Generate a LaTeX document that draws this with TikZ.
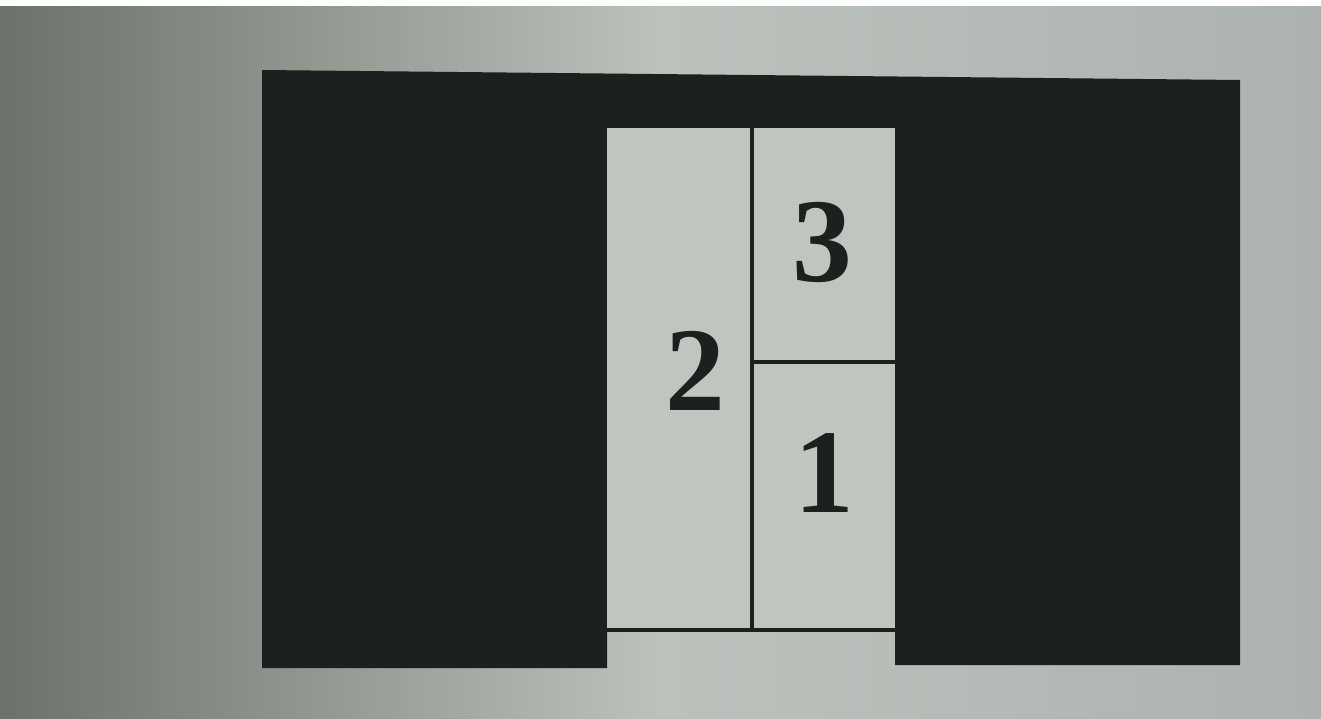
\documentclass[tikz,border=0pt]{standalone}
\usepackage{fontspec}
\setmainfont{Liberation Serif}
\begin{document}
\begin{tikzpicture}[x=0.01cm, y=-0.01cm]
  % Colors
  \definecolor{bgleft}{RGB}{108,113,108}
  \definecolor{bgmid}{RGB}{188,193,188}
  \definecolor{bgright}{RGB}{172,179,174}
  \definecolor{papercol}{RGB}{192,197,192}
  \definecolor{inkcol}{RGB}{28,32,30}
  %
  \def\lx{607}   % left edge of the cells
  \def\mx{752}   % middle divider
  \def\rx{895}   % right edge of the cells
  \def\ty{128}   % top of the cells
  \def\hy{362}   % divider between 3 and 1
  \def\by{630}   % bottom line
  %
  \tikzset{
    rule/.style={draw=inkcol, line width=0.9pt},
    numlabel/.style={inner sep=0pt, text=inkcol,
                     font=\fontsize{34}{34}\selectfont\bfseries},
  }
  %
  \useasboundingbox (0,0) rectangle (1321,718);
  %
  % Paper
  \shade[left color=bgleft, right color=bgright, middle color=bgmid] (0,0) rectangle (1321,718);
  \fill[white] (0,0) rectangle (1321,6);
  %
  % Dark surround
  \fill[inkcol] (262,70) -- (1240,80) -- (1240,665) -- (\rx,665) -- (\rx,\ty)
    -- (\lx,\ty) -- (\lx,668) -- (262,668) -- cycle;
  %
  % Cells
  \fill[papercol] (\lx,\ty) rectangle (\rx,\by);
  \draw[rule] (\mx,\ty) -- (\mx,\by);
  \draw[rule] (\mx,\hy) -- (\rx,\hy);
  \draw[rule] (\lx,\by) -- (\rx,\by);
  %
  % Labels
  \node[numlabel] (two) at (695,371) {2};
  \node[numlabel] (three) at (822,242) {3};
  \node[numlabel] (one) at (824,473) {1};
\end{tikzpicture}
\end{document}
